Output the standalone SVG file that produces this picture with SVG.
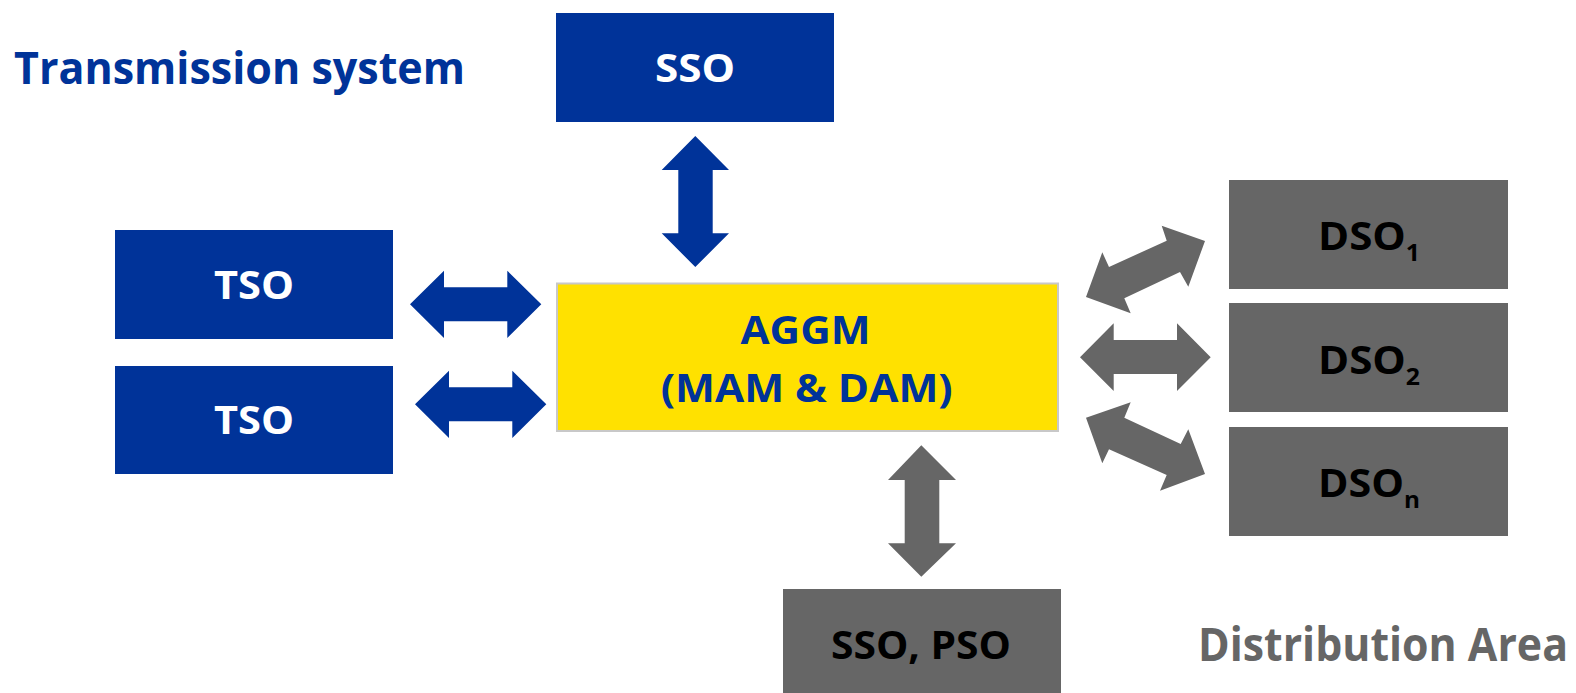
<svg xmlns="http://www.w3.org/2000/svg" width="1576" height="693" viewBox="0 0 1576 693">
<style>
text{font-family:"Open Sans","Liberation Sans",sans-serif;font-weight:bold}
.blue{fill:#003399}
.gray{fill:#666666}
.lbl{font-size:39px}
.w{fill:#ffffff}
.k{fill:#000000}
.sub{font-size:23px}
</style>
<rect x="0" y="0" width="1576" height="693" fill="#ffffff"/>
<text x="14" y="84.3" class="blue" font-size="44" textLength="451" lengthAdjust="spacingAndGlyphs">Transmission system</text>
<text x="1198" y="661" class="gray" font-size="46" textLength="370" lengthAdjust="spacingAndGlyphs">Distribution Area</text>

<g id="connectors">
<polygon class="blue" points="695.3,136 729,170 712.7,170 712.7,233.3 729,233.3 695.3,267 661.7,233.3 678.3,233.3 678.3,170 661.7,170"/>
<polygon class="blue" points="410,304.3 444,270.7 444,287.3 507.3,287.3 507.3,270.7 541.3,304.3 507.3,338 507.3,321.3 444,321.3 444,338"/>
<polygon class="blue" points="415,404.3 449,370.7 449,387.3 512.3,387.3 512.3,370.7 546.3,404.3 512.3,438 512.3,421.3 449,421.3 449,438"/>
<polygon class="gray" points="921.3,445.3 956,480 939.3,480 939.3,543.3 956,543.3 921.3,576.7 888,543.3 904.7,543.3 904.7,480 888,480"/>
<polygon class="gray" points="1086,297 1102.3,252.3 1109,267 1166.7,240.7 1161.7,225.7 1205,241 1188.3,286.7 1180,272 1124.3,298.3 1130.7,313.3"/>
<polygon class="gray" points="1080,357.3 1113.7,323.3 1113.7,340 1177,340 1177,323.3 1210.7,357.3 1177,391 1177,374 1113.7,374 1113.7,391"/>
<polygon class="gray" points="1086,417.7 1130.7,402.3 1124.3,417.7 1180.7,444 1188.3,429.3 1205,474 1160,490.7 1166.7,475 1109,449.3 1102.3,463.3"/>
</g>

<g id="sso">
<rect x="556" y="13" width="278" height="109" class="blue"/>
<text x="695" y="81.5" class="lbl w" text-anchor="middle" textLength="80" lengthAdjust="spacingAndGlyphs">SSO</text>
</g>
<g id="tso1">
<rect x="115" y="230" width="278" height="109" class="blue"/>
<text x="254" y="298.5" class="lbl w" text-anchor="middle" textLength="80" lengthAdjust="spacingAndGlyphs">TSO</text>
</g>
<g id="tso2">
<rect x="115" y="366" width="278" height="108" class="blue"/>
<text x="254" y="434" class="lbl w" text-anchor="middle" textLength="80" lengthAdjust="spacingAndGlyphs">TSO</text>
</g>
<g id="aggm">
<rect x="557" y="283.5" width="501" height="147.5" fill="#ffe100" stroke="#c8c8c8" stroke-width="2"/>
<text x="805.5" y="344.3" class="lbl blue" text-anchor="middle" textLength="130" lengthAdjust="spacingAndGlyphs">AGGM</text>
<text x="806.7" y="401.7" class="lbl blue" text-anchor="middle" textLength="292" lengthAdjust="spacingAndGlyphs">(MAM &amp; DAM)</text>
</g>
<g id="dso1">
<rect x="1229" y="180" width="279" height="109" class="gray"/>
<text x="1318" y="250" class="lbl k" textLength="102" lengthAdjust="spacingAndGlyphs">DSO<tspan dy="11" class="sub">1</tspan></text>
</g>
<g id="dso2">
<rect x="1229" y="303" width="279" height="109" class="gray"/>
<text x="1318" y="374" class="lbl k" textLength="102" lengthAdjust="spacingAndGlyphs">DSO<tspan dy="11" class="sub">2</tspan></text>
</g>
<g id="dson">
<rect x="1229" y="427" width="279" height="109" class="gray"/>
<text x="1318" y="497" class="lbl k" textLength="102" lengthAdjust="spacingAndGlyphs">DSO<tspan dy="11" class="sub">n</tspan></text>
</g>
<g id="ssopso">
<rect x="783" y="589" width="278" height="110" class="gray"/>
<text x="921" y="659" class="lbl k" text-anchor="middle" textLength="180" lengthAdjust="spacingAndGlyphs">SSO, PSO</text>
</g>
</svg>
